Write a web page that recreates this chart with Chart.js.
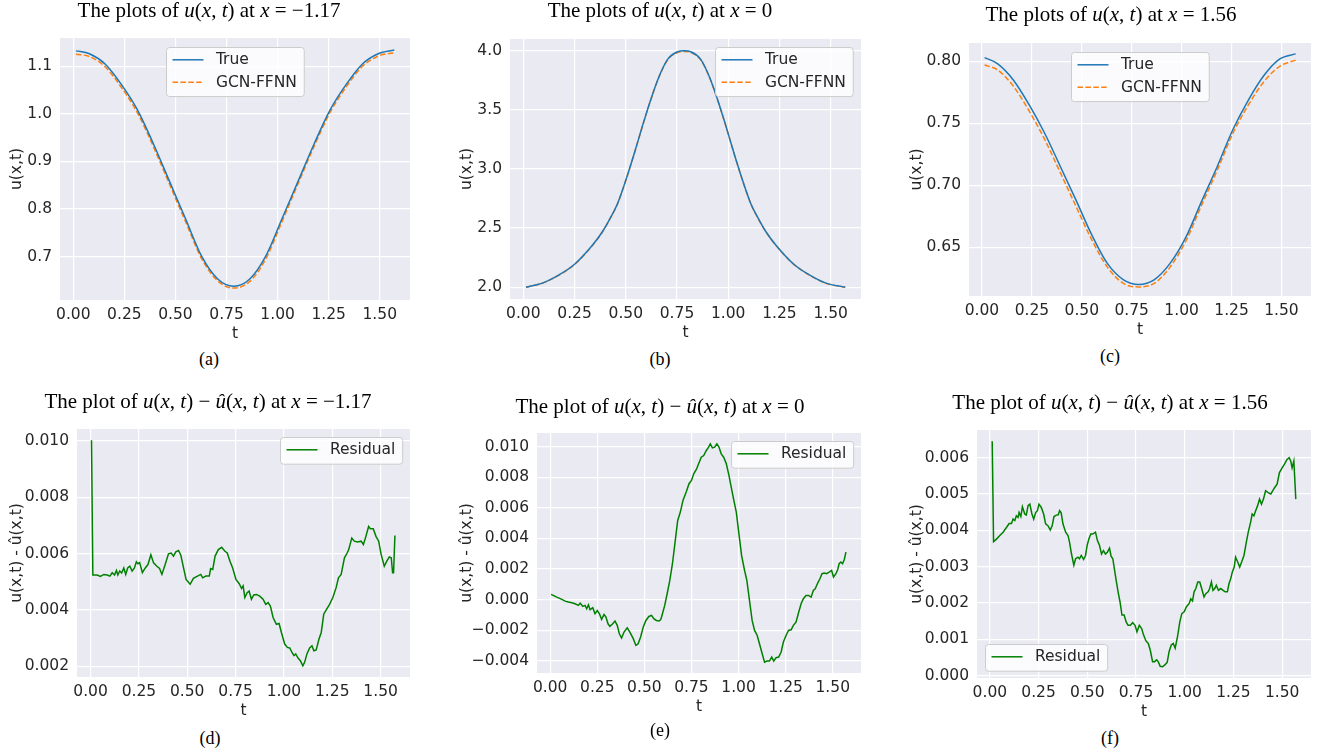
<!DOCTYPE html>
<html><head><meta charset="utf-8">
<script src="https://cdn.jsdelivr.net/npm/chart.js@4.4.0/dist/chart.umd.min.js"></script>
<style>
html,body{margin:0;padding:0;background:#fff;}
#stage{position:relative;width:1319px;height:754px;overflow:hidden;background:#fff;}
#stage canvas{position:absolute;}
.ttl{position:absolute;font-family:'Liberation Serif','Times New Roman',serif;font-size:21px;line-height:20px;color:#000;white-space:nowrap;transform:translate(-50%,-50%);}
.cap{position:absolute;font-family:'Liberation Serif','Times New Roman',serif;font-size:18px;line-height:20px;color:#000;white-space:nowrap;transform:translate(-50%,-50%);}
</style></head><body><div id="stage"></div>
<script>
// ---------------- DATA ----------------
const tTicks = [0, 0.25, 0.5, 0.75, 1.0, 1.25, 1.5];

// smooth curves (top row)
const tSmooth = [0.013,0.079,0.157,0.236,0.314,0.393,0.471,0.550,0.628,0.707,0.785,0.864,0.942,1.021,1.100,1.178,1.257,1.335,1.414,1.492,1.571];
const trueA = [1.132,1.126,1.104,1.061,1.008,0.936,0.858,0.779,0.701,0.653,0.638,0.653,0.701,0.779,0.858,0.936,1.008,1.061,1.104,1.126,1.134];
const gcnA  = [1.125,1.120,1.098,1.055,1.002,0.930,0.852,0.773,0.696,0.649,0.634,0.648,0.695,0.773,0.853,0.931,1.003,1.056,1.099,1.121,1.128];
const tB    = [0.013,0.093,0.174,0.250,0.338,0.386,0.419,0.460,0.500,0.541,0.582,0.623,0.664,0.705,0.750,0.785,0.820,0.865,0.906,0.947,0.988,1.029,1.070,1.110,1.151,1.184,1.232,1.320,1.396,1.477,1.571];
const trueB = [2.000,2.034,2.104,2.194,2.357,2.469,2.567,2.708,2.904,3.129,3.368,3.593,3.789,3.930,3.990,4.000,3.990,3.930,3.789,3.593,3.368,3.129,2.904,2.708,2.567,2.469,2.357,2.194,2.104,2.034,2.000];
const gcnB  = [2.000,2.033,2.102,2.192,2.355,2.467,2.565,2.706,2.902,3.127,3.365,3.590,3.785,3.925,3.984,3.994,3.984,3.925,3.786,3.591,3.366,3.128,2.903,2.707,2.566,2.468,2.356,2.193,2.103,2.033,2.000];
const trueC = [0.803,0.798,0.785,0.765,0.742,0.715,0.688,0.660,0.637,0.624,0.620,0.624,0.637,0.658,0.687,0.715,0.745,0.769,0.789,0.802,0.806];
const gcnC  = [0.797,0.793,0.780,0.760,0.737,0.710,0.683,0.656,0.634,0.621,0.618,0.621,0.634,0.655,0.684,0.712,0.742,0.765,0.784,0.796,0.801];

// residuals (bottom row), values in units of 1e-3
const tD = [0.005,0.012,0.034,0.051,0.069,0.086,0.100,0.112,0.124,0.134,0.141,0.151,0.161,0.172,0.182,0.192,0.203,0.215,0.227,0.237,0.245,0.254,0.268,0.283,0.297,0.312,0.326,0.343,0.357,0.369,0.386,0.403,0.417,0.429,0.441,0.455,0.467,0.481,0.494,0.515,0.532,0.553,0.570,0.580,0.596,0.614,0.621,0.632,0.644,0.661,0.678,0.695,0.707,0.721,0.735,0.752,0.769,0.781,0.789,0.798,0.810,0.820,0.832,0.844,0.858,0.875,0.892,0.906,0.918,0.930,0.944,0.961,0.975,0.987,1.004,1.018,1.030,1.042,1.052,1.061,1.073,1.085,1.098,1.107,1.119,1.133,1.145,1.155,1.167,1.181,1.193,1.206,1.218,1.236,1.253,1.270,1.282,1.296,1.313,1.327,1.335,1.351,1.364,1.381,1.399,1.411,1.424,1.438,1.447,1.462,1.476,1.490,1.503,1.519,1.532,1.545,1.555,1.562,1.567,1.574];
const rD = [10.02,5.24,5.24,5.19,5.26,5.24,5.20,5.32,5.24,5.40,5.24,5.38,5.31,5.49,5.26,5.49,5.55,5.38,5.49,5.71,5.64,5.68,5.32,5.49,5.61,5.96,5.67,5.55,5.47,5.26,5.61,5.99,6.02,5.91,6.06,6.11,5.94,5.49,5.08,4.91,5.12,5.20,5.26,5.14,5.20,5.20,5.47,5.44,5.91,6.14,6.22,6.08,6.02,5.73,5.49,5.08,4.93,4.76,4.85,4.44,4.61,4.67,4.38,4.53,4.55,4.49,4.38,4.20,4.26,4.14,3.73,3.49,3.52,3.20,2.79,2.67,2.65,2.49,2.38,2.44,2.29,2.20,2.02,2.14,2.44,2.65,2.73,2.55,2.58,2.96,3.20,3.85,3.99,4.20,4.44,4.79,5.14,5.26,5.85,6.02,6.14,6.55,6.44,6.41,6.44,6.32,6.61,6.96,6.88,6.88,6.61,6.44,5.96,5.55,5.73,5.88,5.85,5.32,5.32,6.64];
const tE = [0.005,0.035,0.062,0.079,0.097,0.115,0.132,0.150,0.159,0.173,0.185,0.194,0.203,0.212,0.226,0.238,0.250,0.261,0.273,0.286,0.296,0.307,0.317,0.332,0.344,0.356,0.367,0.379,0.392,0.409,0.423,0.441,0.455,0.467,0.480,0.494,0.508,0.524,0.538,0.550,0.564,0.578,0.587,0.596,0.608,0.621,0.635,0.649,0.663,0.677,0.691,0.705,0.723,0.737,0.750,0.762,0.776,0.788,0.802,0.815,0.829,0.841,0.850,0.861,0.873,0.885,0.896,0.908,0.921,0.935,0.949,0.961,0.975,0.988,1.002,1.016,1.032,1.044,1.058,1.072,1.085,1.099,1.111,1.123,1.138,1.150,1.164,1.176,1.187,1.199,1.213,1.226,1.238,1.252,1.265,1.279,1.291,1.305,1.317,1.332,1.344,1.358,1.372,1.385,1.397,1.407,1.420,1.432,1.443,1.455,1.467,1.481,1.494,1.504,1.517,1.526,1.534,1.543,1.552,1.561,1.570];
const rE = [0.35,0.17,0.02,-0.09,-0.15,-0.20,-0.26,-0.37,-0.22,-0.43,-0.37,-0.59,-0.33,-0.65,-0.52,-0.91,-0.70,-0.91,-1.28,-0.96,-1.13,-1.57,-1.74,-1.57,-1.39,-1.67,-2.22,-2.50,-2.11,-1.83,-2.11,-2.54,-2.98,-2.87,-2.43,-1.78,-1.35,-1.09,-1.02,-1.24,-1.35,-1.39,-1.30,-0.91,-0.37,0.39,1.26,2.35,3.76,5.17,5.72,6.48,7.07,7.57,7.78,8.22,8.50,8.87,9.30,9.41,9.74,9.96,10.17,9.91,9.96,10.17,9.96,9.52,9.30,8.87,8.11,7.35,6.48,5.72,4.30,2.89,1.91,1.26,-0.04,-1.35,-2.00,-2.33,-2.87,-3.41,-4.07,-4.00,-4.00,-3.74,-4.00,-3.78,-3.74,-3.41,-2.76,-2.33,-2.00,-1.96,-1.67,-1.46,-0.91,-0.26,0.07,0.28,0.28,0.17,0.61,0.72,1.09,1.37,1.70,1.74,1.70,1.80,1.91,1.48,1.70,1.96,2.35,2.46,2.35,2.61,3.11];
const tF = [0.012,0.019,0.034,0.051,0.068,0.085,0.099,0.111,0.119,0.128,0.136,0.145,0.150,0.159,0.167,0.179,0.187,0.196,0.205,0.216,0.225,0.235,0.244,0.252,0.264,0.276,0.286,0.298,0.310,0.320,0.329,0.341,0.351,0.358,0.366,0.375,0.389,0.401,0.409,0.419,0.431,0.440,0.452,0.460,0.469,0.481,0.491,0.499,0.508,0.518,0.528,0.542,0.552,0.562,0.573,0.583,0.593,0.603,0.614,0.622,0.631,0.639,0.648,0.658,0.668,0.678,0.689,0.699,0.709,0.721,0.733,0.745,0.755,0.767,0.779,0.789,0.801,0.813,0.823,0.835,0.845,0.856,0.864,0.874,0.886,0.898,0.910,0.920,0.931,0.941,0.951,0.963,0.975,0.985,0.997,1.009,1.023,1.031,1.040,1.048,1.057,1.067,1.077,1.087,1.099,1.108,1.120,1.128,1.137,1.145,1.154,1.162,1.173,1.185,1.197,1.207,1.219,1.227,1.236,1.244,1.254,1.261,1.272,1.282,1.292,1.304,1.316,1.326,1.338,1.346,1.355,1.364,1.374,1.384,1.394,1.404,1.415,1.428,1.442,1.452,1.462,1.474,1.486,1.500,1.512,1.525,1.536,1.544,1.551,1.560,1.570];
const rF = [6.45,3.69,3.76,3.86,3.95,4.08,4.19,4.19,4.31,4.27,4.40,4.36,4.49,4.38,4.65,4.45,4.42,4.68,4.72,4.45,4.31,4.49,4.54,4.72,4.63,4.45,4.18,4.13,4.01,4.13,4.38,4.42,4.43,4.54,4.48,4.18,3.95,3.86,3.67,3.35,3.04,3.22,3.26,3.22,3.31,3.20,3.31,3.58,3.76,3.90,3.90,3.95,3.72,3.60,3.35,3.44,3.35,3.40,3.51,3.29,3.22,2.94,2.63,2.31,2.03,1.67,1.67,1.49,1.39,1.39,1.46,1.39,1.21,1.39,1.30,1.12,0.96,0.89,0.71,0.39,0.39,0.44,0.39,0.26,0.25,0.30,0.37,0.67,0.85,0.89,0.76,1.08,1.49,1.71,1.76,1.90,1.99,2.12,2.06,2.31,2.40,2.58,2.58,2.40,2.17,2.26,2.31,2.40,2.58,2.35,2.40,2.49,2.35,2.40,2.35,2.31,2.31,2.53,2.67,2.85,2.99,3.26,3.13,2.99,3.13,3.31,3.67,3.95,4.22,4.45,4.40,4.54,4.68,4.86,4.72,4.86,5.09,5.04,5.00,5.09,5.18,5.27,5.59,5.72,5.82,5.95,6.00,5.91,5.72,5.91,4.86];

const yTicksA = [0.7, 0.8, 0.9, 1.0, 1.1];
const yTicksB = [2.0, 2.5, 3.0, 3.5, 4.0];
const yTicksC = [0.65, 0.70, 0.75, 0.80];
const yTicksD = [0.002, 0.004, 0.006, 0.008, 0.010];
const yTicksE = [-0.004, -0.002, 0.000, 0.002, 0.004, 0.006, 0.008, 0.010];
const yTicksF = [0.000, 0.001, 0.002, 0.003, 0.004, 0.005, 0.006];

const seriesNames = ['True', 'GCN-FFNN'];
const residualName = 'Residual';

// ---------------- STYLE / LAYOUT ----------------
const C_TRUE = '#1f77b4', C_GCN = '#ff7f0e', C_RES = '#008000';
const TXT = '#262626';
const FONT = 'DejaVu Sans';
const FS = 15.5;

function zip(xs, ys, k) { return xs.map((x, i) => ({x: x, y: ys[i] * (k || 1)})); }

function smoothPair(t, yt, yg) {
  return [
    {label: seriesNames[0], data: zip(t, yt), borderColor: C_TRUE, borderWidth: 1.5, pointRadius: 0, cubicInterpolationMode: 'monotone', fill: false},
    {label: seriesNames[1], data: zip(t, yg), borderColor: C_GCN, borderWidth: 1.5, borderDash: [5.5, 2.4], pointRadius: 0, cubicInterpolationMode: 'monotone', fill: false}
  ];
}
function resid(t, r) {
  return [{label: residualName, data: zip(t, r, 1e-3), borderColor: C_RES, borderWidth: 1.5, pointRadius: 0, tension: 0, fill: false}];
}
const smoothLegend = [{label: seriesNames[0], color: C_TRUE}, {label: seriesNames[1], color: C_GCN, dash: [5.5, 2.4]}];
const resLegend = [{label: residualName, color: C_RES}];

const panels = [
  {L:60, T:38, R:410, B:300, ylabX:17, xmin:-0.065, xmax:1.648, ymin:0.609, ymax:1.159, yt:yTicksA, dec:1, ds:smoothPair(tSmooth,trueA,gcnA), leg:smoothLegend, loc:'upper center', ylab:'u(x,t)'},
  {L:510, T:39, R:861, B:299, ylabX:467, xmin:-0.065, xmax:1.648, ymin:1.9, ymax:4.1, yt:yTicksB, dec:1, ds:smoothPair(tB,trueB,gcnB), leg:smoothLegend, loc:'upper right', ylab:'u(x,t)'},
  {L:969, T:43, R:1311, B:296, ylabX:917, xmin:-0.065, xmax:1.648, ymin:0.6107, ymax:0.8148, yt:yTicksC, dec:2, ds:smoothPair(tSmooth,trueC,gcnC), leg:smoothLegend, loc:'upper center', ylab:'u(x,t)'},
  {L:77, T:429, R:410, B:677, ylabX:17, xmin:-0.07, xmax:1.652, ymin:0.00162, ymax:0.01042, yt:yTicksD, dec:3, ds:resid(tD,rD), leg:resLegend, loc:'upper right', ylab:'u(x,t) - \u00fb(x,t)'},
  {L:537, T:433, R:861, B:673, ylabX:467, xmin:-0.07, xmax:1.65, ymin:-0.00478, ymax:0.01088, yt:yTicksE, dec:3, ds:resid(tE,rE), leg:resLegend, loc:'upper right', ylab:'u(x,t) - \u00fb(x,t)'},
  {L:977, T:430, R:1311, B:678, ylabX:917, xmin:-0.066, xmax:1.648, ymin:-0.00006, ymax:0.00676, yt:yTicksF, dec:3, ds:resid(tF,rF), leg:resLegend, loc:'lower left', ylab:'u(x,t) - \u00fb(x,t)'}
];

const titles = [
  {x:209, y:9.8, html:'The plots of <i>u</i>(<i>x</i>, <i>t</i>) at <i>x</i> = \u22121.17'},
  {x:660, y:9.8, html:'The plots of <i>u</i>(<i>x</i>, <i>t</i>) at <i>x</i> = 0'},
  {x:1111, y:13.6, html:'The plots of <i>u</i>(<i>x</i>, <i>t</i>) at <i>x</i> = 1.56'},
  {x:208, y:401.3, html:'The plot of <i>u</i>(<i>x</i>, <i>t</i>) \u2212 <i>\u00fb</i>(<i>x</i>, <i>t</i>) at <i>x</i> = \u22121.17'},
  {x:660, y:405.8, html:'The plot of <i>u</i>(<i>x</i>, <i>t</i>) \u2212 <i>\u00fb</i>(<i>x</i>, <i>t</i>) at <i>x</i> = 0'},
  {x:1110, y:401.8, html:'The plot of <i>u</i>(<i>x</i>, <i>t</i>) \u2212 <i>\u00fb</i>(<i>x</i>, <i>t</i>) at <i>x</i> = 1.56'}
];
const captions = [
  {x:209, y:359, text:'(a)'}, {x:660, y:359, text:'(b)'}, {x:1110, y:356, text:'(c)'},
  {x:210, y:738, text:'(d)'}, {x:660, y:730, text:'(e)'}, {x:1110, y:738, text:'(f)'}
];

function fmt(v, d) { return Number(v).toFixed(d).replace('-', '\u2212'); }

const bgPlugin = {
  id: 'bgArea',
  beforeDraw(chart) {
    const a = chart.chartArea, ctx = chart.ctx;
    ctx.save(); ctx.fillStyle = '#EAEAF2';
    ctx.fillRect(a.left, a.top, a.right - a.left, a.bottom - a.top);
    ctx.restore();
  }
};

function rr(ctx, x, y, w, h, r) {
  ctx.beginPath();
  ctx.moveTo(x + r, y);
  ctx.arcTo(x + w, y, x + w, y + h, r);
  ctx.arcTo(x + w, y + h, x, y + h, r);
  ctx.arcTo(x, y + h, x, y, r);
  ctx.arcTo(x, y, x + w, y, r);
  ctx.closePath();
}

const legendPlugin = {
  id: 'mplLegend',
  afterDatasetsDraw(chart, args, opts) {
    const items = opts.items; if (!items) return;
    const ctx = chart.ctx, a = chart.chartArea;
    ctx.save();
    ctx.font = FS + 'px "' + FONT + '"';
    const tw = Math.max.apply(null, items.map(i => ctx.measureText(i.label).width));
    const w = 6 + 31 + 12.4 + tw + 7.3, h = 12.3 + (items.length - 1) * 22.4 + 14.4;
    let x, y;
    if (opts.loc === 'upper center') { x = (a.left + a.right) / 2 - w / 2; y = a.top + 8.5; }
    else if (opts.loc === 'upper right') { x = a.right - 8 - w; y = a.top + 8; }
    else { x = a.left + 8; y = a.bottom - 7 - h; }
    x = Math.round(x) + 0.5; y = Math.round(y) + 0.5;
    rr(ctx, x, y, w, h, 3);
    ctx.fillStyle = 'rgba(255,255,255,0.8)'; ctx.fill();
    ctx.strokeStyle = '#cccccc'; ctx.lineWidth = 1; ctx.stroke();
    items.forEach((it, i) => {
      const cy = y + 12.3 + i * 22.4;
      ctx.beginPath(); ctx.setLineDash(it.dash || []);
      ctx.strokeStyle = it.color; ctx.lineWidth = 1.5;
      ctx.moveTo(x + 6, cy); ctx.lineTo(x + 37, cy); ctx.stroke();
      ctx.setLineDash([]);
      ctx.fillStyle = TXT; ctx.textBaseline = 'middle'; ctx.textAlign = 'left';
      ctx.fillText(it.label, x + 6 + 31 + 12.4, cy + 0.5);
    });
    ctx.restore();
  }
};

const stage = document.getElementById('stage');

function build(p) {
  const padTop = 25, padRight = 10, xH = 48;
  const cl = p.ylabX - 12;
  const yW = p.L - cl;
  const w = yW + (p.R - p.L) + padRight;
  const h = padTop + (p.B - p.T) + xH;
  const cv = document.createElement('canvas');
  cv.width = w; cv.height = h;
  cv.style.left = cl + 'px'; cv.style.top = (p.T - padTop) + 'px';
  cv.style.width = w + 'px'; cv.style.height = h + 'px';
  stage.appendChild(cv);
  const tickFont = {family: FONT, size: FS};
  new Chart(cv.getContext('2d'), {
    type: 'line',
    data: {datasets: p.ds},
    options: {
      responsive: false, animation: false, devicePixelRatio: 1,
      layout: {padding: {top: padTop, right: padRight, left: 0, bottom: 0}},
      plugins: {legend: {display: false}, tooltip: {enabled: false}, mplLegend: {items: p.leg, loc: p.loc}},
      scales: {
        x: {
          type: 'linear', min: p.xmin, max: p.xmax,
          afterFit: s => { s.height = xH; },
          afterBuildTicks: ax => { ax.ticks = tTicks.map(v => ({value: v})); },
          grid: {color: '#ffffff', lineWidth: 1.2, drawTicks: false},
          border: {display: false},
          ticks: {padding: 6, color: TXT, font: tickFont, autoSkip: false, maxRotation: 0, callback: v => fmt(v, 2)},
          title: {display: true, text: 't', color: TXT, font: tickFont, padding: {top: 0, bottom: xH - 34 - 9.3}}
        },
        y: {
          type: 'linear', min: p.ymin, max: p.ymax,
          afterFit: s => { s.width = yW; },
          afterBuildTicks: ax => { ax.ticks = p.yt.map(v => ({value: v})); },
          grid: {color: '#ffffff', lineWidth: 1.2, drawTicks: false},
          border: {display: false},
          ticks: {padding: 8, color: TXT, font: tickFont, autoSkip: false, callback: v => fmt(v, p.dec)},
          title: {display: true, text: p.ylab, color: TXT, font: tickFont, padding: {top: 3, bottom: 0}}
        }
      }
    },
    plugins: [bgPlugin, legendPlugin]
  });
}

panels.forEach(build);

titles.forEach(t => {
  const d = document.createElement('div');
  d.className = 'ttl'; d.innerHTML = t.html;
  d.style.left = t.x + 'px'; d.style.top = t.y + 'px';
  stage.appendChild(d);
});
captions.forEach(c => {
  const d = document.createElement('div');
  d.className = 'cap'; d.textContent = c.text;
  d.style.left = c.x + 'px'; d.style.top = c.y + 'px';
  stage.appendChild(d);
});
</script>
</body></html>
